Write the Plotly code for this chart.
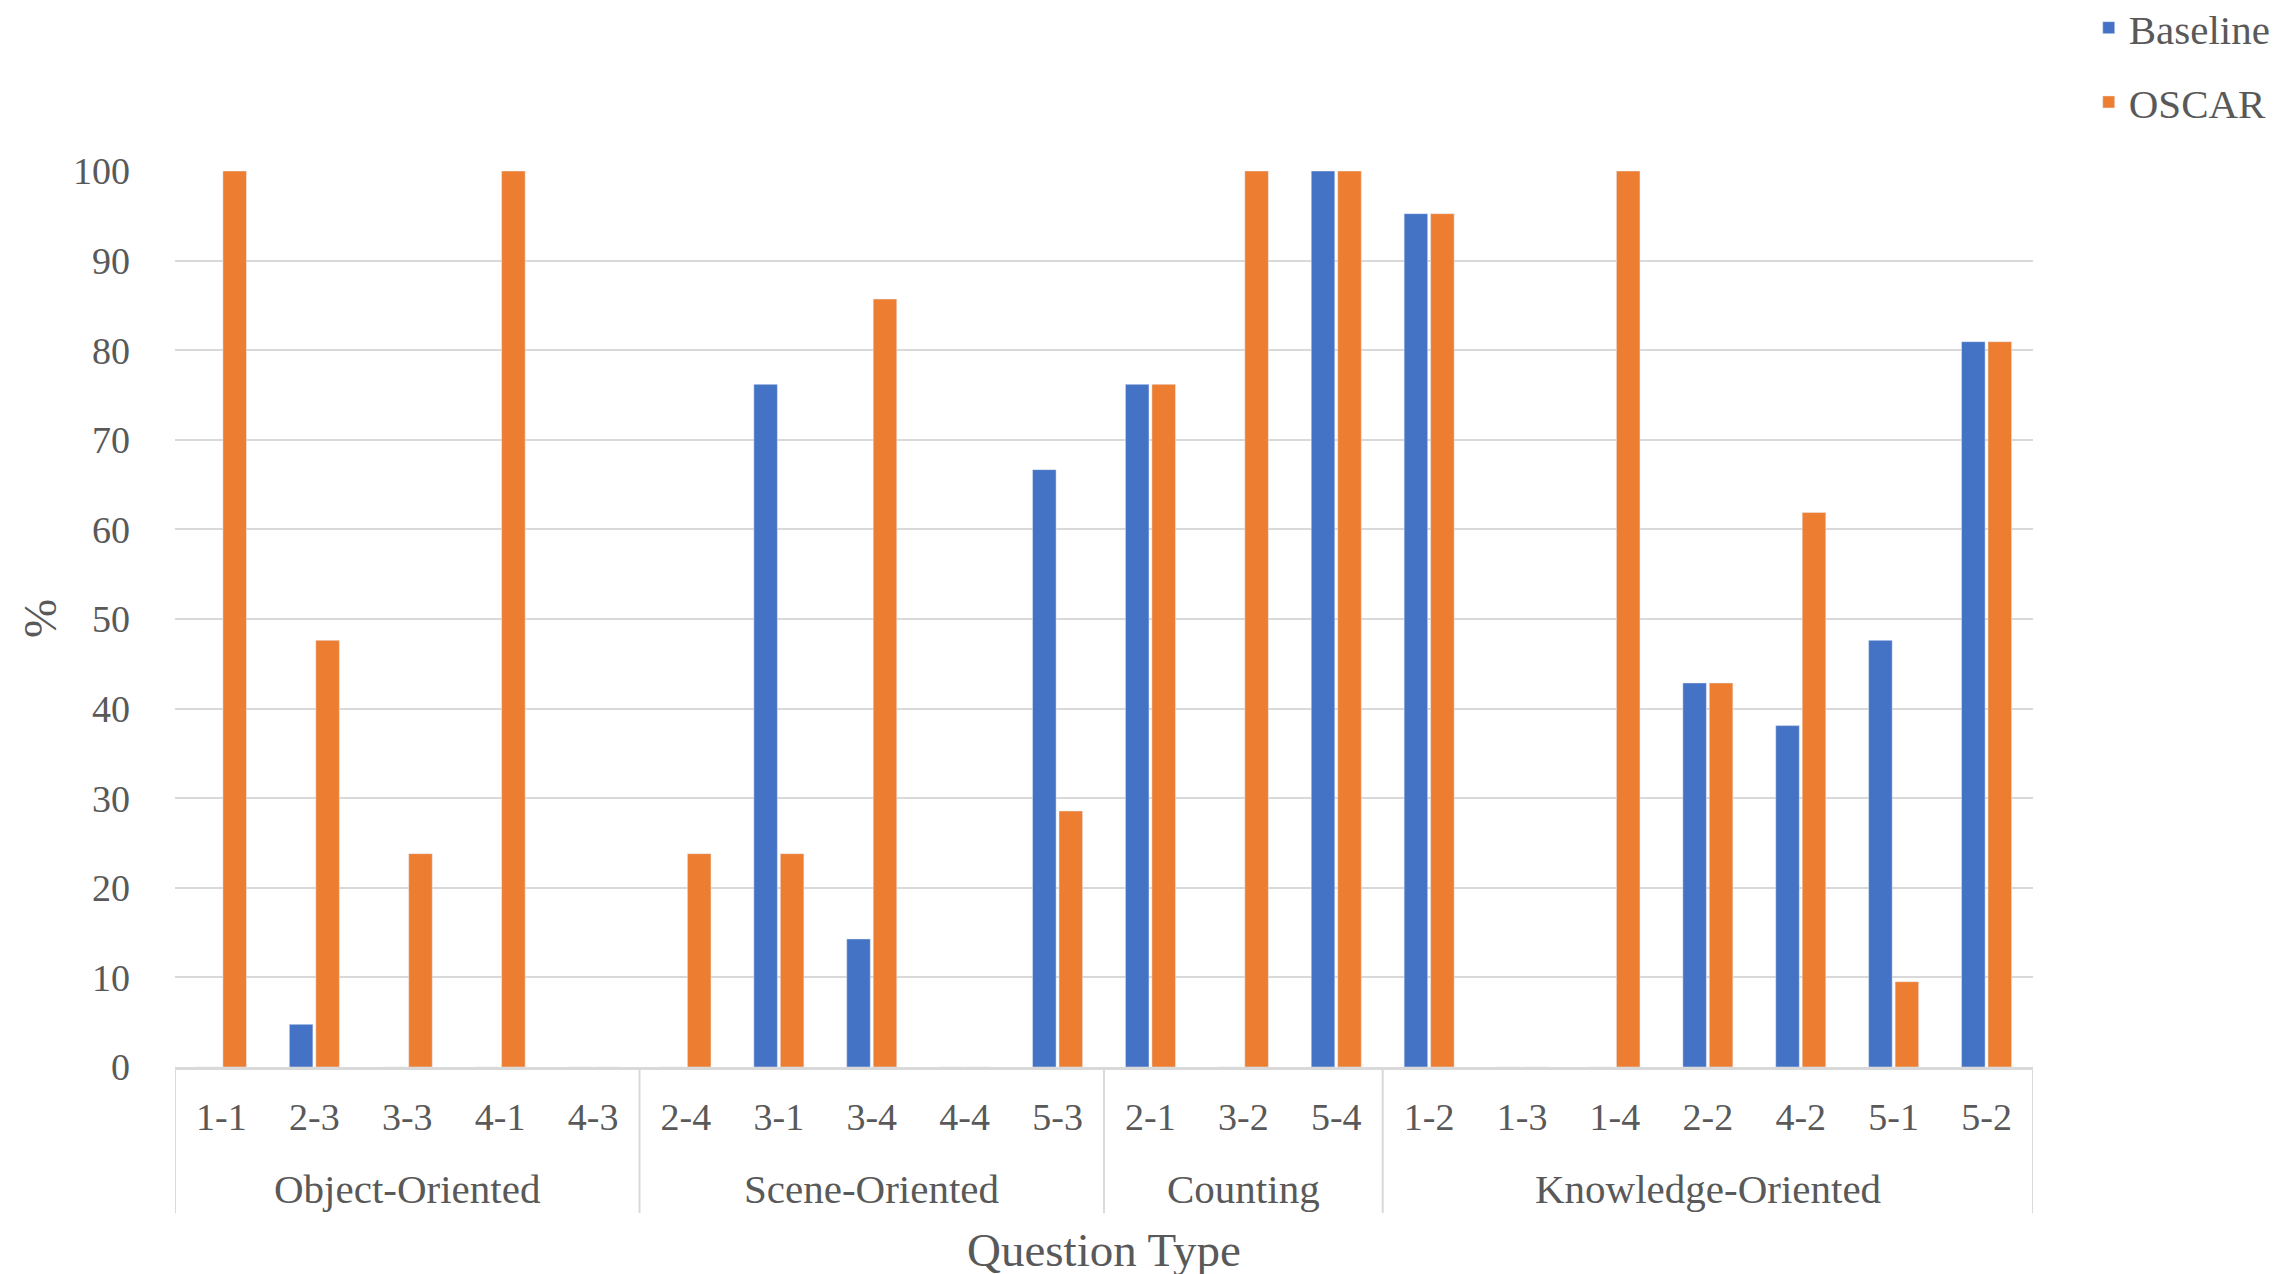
import plotly.graph_objects as go

group_names = ["Object-Oriented", "Scene-Oriented", "Counting", "Knowledge-Oriented"]
group_sizes = [5, 5, 3, 7]
labels = ["1-1", "2-3", "3-3", "4-1", "4-3",
          "2-4", "3-1", "3-4", "4-4", "5-3",
          "2-1", "3-2", "5-4",
          "1-2", "1-3", "1-4", "2-2", "4-2", "5-1", "5-2"]
baseline = [0, 4.76, 0, 0, 0,
            0, 76.19, 14.29, 0, 66.67,
            76.19, 0, 100,
            95.24, 0, 0, 42.86, 38.10, 47.62, 80.95]
oscar = [100, 47.62, 23.81, 100, 0,
         23.81, 23.81, 85.71, 0, 28.57,
         76.19, 100, 100,
         95.24, 0, 100, 42.86, 61.90, 9.52, 80.95]
y_ticks = list(range(0, 101, 10))

FONT = "Liberation Serif"
GREY = "#595959"
LINE = "#d9d9d9"

W, H = 2281, 1274
ML, MR, MT, MB = 167, 256, 163, 215
PH = H - MT - MB
PW = W - ML - MR

x_idx = list(range(len(labels)))

fig = go.Figure()
fig.add_trace(go.Bar(name="Baseline", x=x_idx, y=baseline,
                     marker_color="#4472C4", legendgroup="a"))
fig.add_trace(go.Bar(name="OSCAR", x=x_idx, y=oscar,
                     marker_color="#ED7D31", legendgroup="b"))

# group labels and dividers (derived from group sizes)
start = 0
bounds = [-0.5]
for name, n in zip(group_names, group_sizes):
    center = start + (n - 1) / 2
    fig.add_annotation(x=center, xref="x", y=0, yref="paper", yshift=-122,
                       text=name, showarrow=False, yanchor="middle",
                       font=dict(size=41, color=GREY, family=FONT))
    start += n
    bounds.append(start - 0.5)
for b in bounds:
    fig.add_shape(type="line", xref="x", yref="paper", x0=b, x1=b,
                  y0=0, y1=-146 / PH, line=dict(color=LINE, width=2))

fig.add_annotation(x=0.5, xref="paper", y=0, yref="paper", yshift=-183,
                   text="Question Type", showarrow=False, yanchor="middle",
                   font=dict(size=47, color=GREY, family=FONT))
fig.add_annotation(x=(32 - ML) / PW, xref="paper", y=0.5, yref="paper",
                   text="%", showarrow=False, textangle=-90,
                   xanchor="center", yanchor="middle",
                   font=dict(size=47, color=GREY, family=FONT))

fig.update_layout(
    width=W, height=H,
    paper_bgcolor="white", plot_bgcolor="white",
    margin=dict(l=ML, r=MR, t=MT, b=MB, autoexpand=False),
    barmode="group", bargap=0.43, bargroupgap=0.11,
    font=dict(family=FONT, color=GREY, size=38),
    legend=dict(x=1.03, y=1.197, xanchor="left", yanchor="top",
                font=dict(size=41, color=GREY), tracegroupgap=18,
                itemwidth=30),
    showlegend=True,
)
fig.update_yaxes(range=[0, 100], tickvals=y_ticks, showgrid=True,
                 gridcolor=LINE, gridwidth=2, zeroline=False,
                 showline=False, ticks="", automargin=False,
                 ticklabelstandoff=44,
                 tickfont=dict(size=38, color=GREY))
fig.update_xaxes(range=[-0.5, len(labels) - 0.5], tickvals=x_idx,
                 ticktext=labels, showline=True, linecolor=LINE,
                 linewidth=3, showgrid=False, zeroline=False, ticks="",
                 automargin=False, ticklabelstandoff=14,
                 tickfont=dict(size=38, color=GREY))

fig.write_html("out.html")
